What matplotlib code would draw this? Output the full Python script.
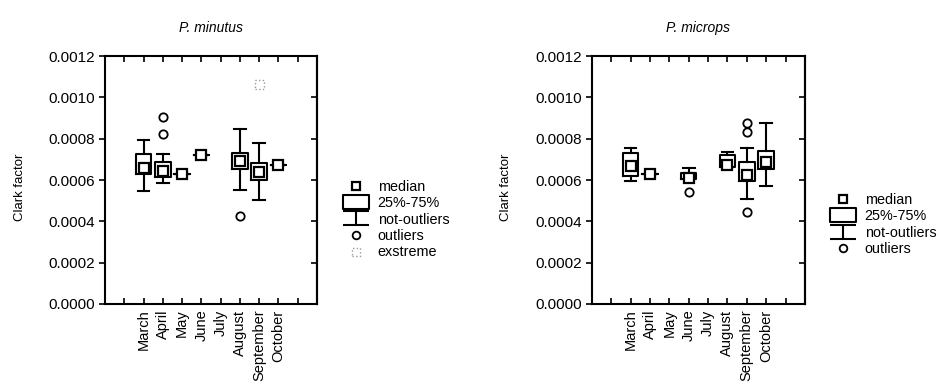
import matplotlib
matplotlib.use("Agg")
import matplotlib.pyplot as plt
from matplotlib.path import Path
from matplotlib.lines import Line2D
import numpy as np

plt.rcParams['font.family'] = ['Liberation Sans', 'DejaVu Sans']
plt.rcParams['font.size'] = 11

months = ["March", "April", "May", "June", "July", "August", "September", "October"]

# P. minutus
min_pos = [2, 3, 4, 5, 7, 8, 9]
min_med = [0.000656, 0.000645, 0.000629, 0.000720, 0.000693, 0.000640, 0.000672]
min_q1 = [0.000627, 0.000616, 0.000629, 0.000720, 0.000651, 0.000600, 0.000672]
min_q3 = [0.000725, 0.000688, 0.000629, 0.000720, 0.000731, 0.000680, 0.000672]
min_lo = [0.000549, 0.000584, 0.000629, 0.000720, 0.000552, 0.000504, 0.000672]
min_hi = [0.000792, 0.000725, 0.000629, 0.000720, 0.000845, 0.000781, 0.000672]
min_out = [[], [0.000821, 0.000904], [], [], [0.000427], [], []]
min_ext_pos = [8]
min_ext_val = [0.001064]

# P. microps
mic_pos = [2, 3, 5, 7, 8, 9]
mic_med = [0.000670, 0.000629, 0.000608, 0.000672, 0.000624, 0.000688]
mic_q1 = [0.000619, 0.000629, 0.000605, 0.000664, 0.000595, 0.000651]
mic_q3 = [0.000731, 0.000629, 0.000632, 0.000723, 0.000688, 0.000741]
mic_lo = [0.000597, 0.000629, 0.000605, 0.000664, 0.000509, 0.000571]
mic_hi = [0.000755, 0.000629, 0.000659, 0.000734, 0.000757, 0.000877]
mic_out = [[], [], [0.000541], [], [0.000443, 0.000832, 0.000875], []]

yticks = [0.0, 0.0002, 0.0004, 0.0006, 0.0008, 0.0010, 0.0012]
xticks = list(range(1, 11))
xticklabels = [""] + months + [""]

fig = plt.figure(figsize=(9.41, 3.85), dpi=100)
ax1 = fig.add_axes([0.1116, 0.2104, 0.2253, 0.644])
ax2 = fig.add_axes([0.629, 0.2104, 0.2264, 0.644])

LW = 1.5

def draw(ax, pos, med, q1, q3, lo, hi, out, title):
    stats = []
    for m, a, b, l, h, f in zip(med, q1, q3, lo, hi, out):
        stats.append(dict(med=m, q1=a, q3=b, whislo=l, whishi=h, fliers=np.array(f)))
    ax.bxp(stats, positions=pos, widths=0.8, capwidths=0.6, showfliers=True,
           boxprops=dict(color='black', linewidth=LW),
           whiskerprops=dict(color='black', linewidth=LW),
           capprops=dict(color='black', linewidth=LW),
           medianprops=dict(visible=False),
           flierprops=dict(marker='o', markerfacecolor='white', markeredgecolor='black',
                           markersize=6, markeredgewidth=1.3, linestyle='none'),
           manage_ticks=False)
    ax.plot(pos, med, ls='none', marker='s', markersize=6.5, markerfacecolor='white',
            markeredgecolor='black', markeredgewidth=1.6, zorder=5)
    ax.set_xlim(0, 11)
    ax.set_ylim(0, 0.0012)
    ax.set_xticks(xticks)
    ax.set_xticklabels(xticklabels, rotation=90, fontsize=10.5)
    ax.set_yticks(yticks)
    ax.set_yticklabels(["%.4f" % v for v in yticks])
    ax.tick_params(axis='x', direction='in', top=True, bottom=True, length=4, width=1.2, pad=4)
    ax.tick_params(axis='y', direction='out', left=True, right=False, length=4, width=1.2, pad=3)
    sec = ax.secondary_yaxis('right')
    sec.set_yticks(yticks)
    sec.tick_params(direction='in', length=4, width=1.2, labelright=False)
    sec.spines['right'].set_linewidth(LW)
    for s in ax.spines.values():
        s.set_linewidth(LW)
    ax.set_ylabel("Clark factor", fontsize=9.5)
    ax.yaxis.set_label_coords(-0.375, 0.47)
    ax.set_title(title, style='italic', pad=17, fontsize=10)

draw(ax1, min_pos, min_med, min_q1, min_q3, min_lo, min_hi, min_out, "P. minutus")
draw(ax2, mic_pos, mic_med, mic_q1, mic_q3, mic_lo, mic_hi, mic_out, "P. microps")

ax1.scatter(min_ext_pos, min_ext_val, marker='s', s=40, facecolors='none',
            edgecolors='#999999', linewidths=1.0, linestyle=':', zorder=5)

box_path = Path([(-1, -0.55), (1, -0.55), (1, 0.55), (-1, 0.55), (-1, -0.55)],
                [Path.MOVETO, Path.LINETO, Path.LINETO, Path.LINETO, Path.CLOSEPOLY])
whisk_path = Path([(-1, 0.55), (1, 0.55), (0, 0.55), (0, -0.55), (-1, -0.55), (1, -0.55)],
                  [Path.MOVETO, Path.LINETO, Path.MOVETO, Path.LINETO, Path.MOVETO, Path.LINETO])

def handles(with_ext):
    h = [
        Line2D([], [], ls='none', marker='s', markersize=6, markerfacecolor='white',
               markeredgecolor='black', markeredgewidth=1.6),
        Line2D([], [], ls='none', marker=box_path, markersize=19, markerfacecolor='none',
               markeredgecolor='black', markeredgewidth=LW),
        Line2D([], [], ls='none', marker=whisk_path, markersize=19, markerfacecolor='none',
               markeredgecolor='black', markeredgewidth=LW),
        Line2D([], [], ls='none', marker='o', markersize=5.5, markerfacecolor='white',
               markeredgecolor='black', markeredgewidth=1.3),
    ]
    labels = ["median", "25%-75%", "not-outliers", "outliers"]
    if with_ext:
        h.append(ax1.scatter([], [], marker='s', s=30, facecolors='none', edgecolors='#999999',
                             linewidths=1.0, linestyle=':'))
        labels.append("exstreme")
    return h, labels

h1, l1 = handles(True)
fig.legend(h1, l1, loc='upper left', bbox_to_anchor=(0.3645, 0.532), frameon=False,
           handlelength=1.8, handletextpad=0.6, labelspacing=0.15, borderpad=0,
           borderaxespad=0, fontsize=10.4)
h2, l2 = handles(False)
fig.legend(h2, l2, loc='upper left', bbox_to_anchor=(0.882, 0.498), frameon=False,
           handlelength=1.8, handletextpad=0.6, labelspacing=0.15, borderpad=0,
           borderaxespad=0, fontsize=10.4)

fig.savefig("out.png", dpi=100)
